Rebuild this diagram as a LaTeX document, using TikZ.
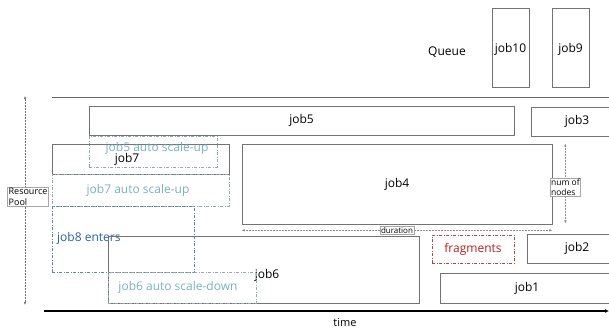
\documentclass[tikz,border=0pt]{standalone}
\usepackage{fontspec}
\setmainfont{Open Sans}
\usetikzlibrary{arrows.meta}
\colorlet{JobLine}{black!55}
\definecolor{ScaleText}{RGB}{118,178,190}
\definecolor{ScaleLine}{RGB}{150,170,176}
\definecolor{EnterText}{RGB}{38,98,158}
\definecolor{EnterLine}{RGB}{96,136,160}
\definecolor{FragText}{RGB}{178,32,32}
\definecolor{FragLine}{RGB}{170,70,70}

\tikzset{
  job/.style 2 args={draw=JobLine, line width=0.7pt, minimum width=#1pt, minimum height=#2pt,
    inner sep=0pt, font=\fontsize{12}{14}\selectfont},
  dashbox/.style 2 args={line width=0.6pt, minimum width=#1pt, minimum height=#2pt, inner sep=0pt,
    dash pattern=on 3pt off 1.5pt on 1pt off 1.5pt},
  jobtext/.style={inner sep=0pt, font=\fontsize{12}{14}\selectfont},
  small/.style={draw=black!35, solid, text=black, line width=0.4pt, fill=white, inner sep=1pt,
    font=\fontsize{8.5}{9.5}\selectfont, align=left},
  dimarrow/.style={black!45, line width=0.5pt, densely dotted, {Latex[length=3pt,width=2.5pt]}-{Latex[length=3pt,width=2.5pt]}},
}

\begin{document}
\begin{tikzpicture}[x=1pt, y=-1pt]

\useasboundingbox (0,0) rectangle (609,329);
\clip (0,0) rectangle (609,329);

% queue
\node[jobtext] (queue) at (447,52) {Queue};
\node[job={37}{79}, text depth=0pt] (job10) at (510.5,47.5) {job10};
\node[job={37}{79}, text depth=0pt] (job9) at (570.5,47.5) {job9};

\coordinate (pooltop) at (52,97);
\coordinate (poolright) at (609,97);
\draw[black!60, line width=0.9pt] (pooltop) -- (poolright);

% running jobs
\node[job={425}{29}] (job5) at (301.5,120.5) {job5};
\node[job={92}{29}] (job3) at (577,121.5) {job3};

\node[dashbox={128}{31}, draw=ScaleLine] (job5up) at (153,151.5) {};
\node[job={177}{30}] (job7) at (140.5,159) {};
\node[jobtext] (job7text) at (127,159) {job7};
\node[jobtext, text=ScaleText] (job5uptext) at (157,148) {job5 auto scale-up};

\node[dashbox={177}{32}, draw=ScaleLine] (job7up) at (140.5,190) {};
\node[jobtext, text=ScaleText] (job7uptext) at (138,190) {job7 auto scale-up};

\node[dashbox={142}{66}, draw=EnterLine] (job8) at (123,239) {};
\node[jobtext, text=EnterText, anchor=west] (job8text) at (57,238) {job8 enters};

\node[job={311}{67}] (job6) at (263.5,269.5) {};
\node[jobtext] (job6text) at (267,275) {job6};
\node[dashbox={148}{31}, draw=ScaleLine] (job6down) at (182,287.5) {};
\node[jobtext, text=ScaleText] (job6downtext) at (178,287) {job6 auto scale-down};

\node[job={310}{80}] (job4) at (397,184) {job4};
\draw[dimarrow] ([yshift=-6pt]job4.south west) -- node[small, font=\fontsize{8}{9}\selectfont] (duration) {duration} ([yshift=-6pt]job4.south east);
\draw[dimarrow] ([xshift=13pt]job4.north east) -- node[small, pos=0.55] (numnodes) {num of\\nodes} ([xshift=13pt, yshift=1pt]job4.south east);

\node[dashbox={82}{28}, draw=FragLine, text=FragText, font=\fontsize{12}{14}\selectfont] (frag) at (473,249) {fragments};
\node[job={100}{29}] (job2) at (577,248.5) {job2};
\node[job={174}{30}] (job1) at (527,288) {job1};

% axes
\coordinate (timestart) at (44,311);
\coordinate (timeend) at (609,311);
\draw[line width=1.3pt, -{Latex[length=4pt,width=4pt]}] (timestart) -- (timeend);
\node[jobtext, font=\fontsize{11}{13}\selectfont] (time) at (345,323) {time};

\coordinate (resourcetop) at (25,96);
\coordinate (resourcebottom) at (25,305);
\draw[dimarrow, black!55] (resourcetop) -- (resourcebottom);
\node[small, font=\fontsize{9}{10.5}\selectfont] (resource) at (28,197) {Resource\\Pool};

\end{tikzpicture}
\end{document}
